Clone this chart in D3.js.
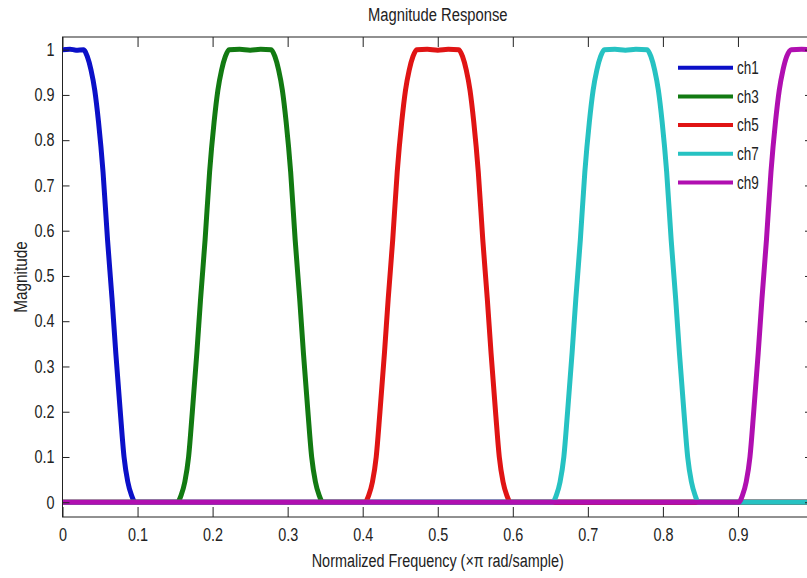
<!DOCTYPE html>
<html>
<head>
<meta charset="utf-8">
<script src="https://cdn.jsdelivr.net/npm/d3@7"></script>
<style>
  html, body { margin: 0; padding: 0; background: #fff; overflow: hidden; }
  svg { display: block; font-family: "Liberation Sans Narrow", "Arial Narrow", "Liberation Sans", sans-serif; }
</style>
</head>
<body>
<div id="chart"></div>
<script>
// values (normalized frequency, magnitude)
const ch1Freq = [0, 0.010, 0.018, 0.028, 0.033, 0.038, 0.043, 0.048, 0.054, 0.060, 0.066, 0.071, 0.077, 0.082, 0.087, 0.092, 0.097, 1.0];
const ch1Mag  = [1, 1.001, 0.999, 1, 0.985, 0.955, 0.91, 0.84, 0.73, 0.58, 0.45, 0.33, 0.20, 0.10, 0.045, 0.015, 0, 0];

const ch3Freq = [0, 0.153, 0.158, 0.163, 0.168, 0.173, 0.179, 0.184, 0.190, 0.196, 0.202, 0.207, 0.212, 0.217, 0.222, 0.236, 0.250, 0.264, 0.278, 0.283, 0.288, 0.293, 0.298, 0.304, 0.310, 0.316, 0.321, 0.327, 0.332, 0.337, 0.342, 0.347, 1.0];
const ch3Mag  = [0, 0, 0.015, 0.045, 0.10, 0.20, 0.33, 0.45, 0.58, 0.73, 0.84, 0.91, 0.955, 0.985, 1, 1.001, 0.999, 1.001, 1, 0.985, 0.955, 0.91, 0.84, 0.73, 0.58, 0.45, 0.33, 0.20, 0.10, 0.045, 0.015, 0, 0];

const ch5Freq = [0, 0.403, 0.408, 0.413, 0.418, 0.423, 0.429, 0.434, 0.440, 0.446, 0.452, 0.457, 0.462, 0.467, 0.472, 0.486, 0.500, 0.514, 0.528, 0.533, 0.538, 0.543, 0.548, 0.554, 0.560, 0.566, 0.571, 0.577, 0.582, 0.587, 0.592, 0.597, 1.0];
const ch5Mag  = [0, 0, 0.015, 0.045, 0.10, 0.20, 0.33, 0.45, 0.58, 0.73, 0.84, 0.91, 0.955, 0.985, 1, 1.001, 0.999, 1.001, 1, 0.985, 0.955, 0.91, 0.84, 0.73, 0.58, 0.45, 0.33, 0.20, 0.10, 0.045, 0.015, 0, 0];

const ch7Freq = [0, 0.653, 0.658, 0.663, 0.668, 0.673, 0.679, 0.684, 0.690, 0.696, 0.702, 0.707, 0.712, 0.717, 0.722, 0.736, 0.750, 0.764, 0.779, 0.784, 0.789, 0.794, 0.799, 0.805, 0.811, 0.817, 0.822, 0.828, 0.833, 0.838, 0.843, 0.847, 1.0];
const ch7Mag  = [0, 0, 0.015, 0.045, 0.10, 0.20, 0.33, 0.45, 0.58, 0.73, 0.84, 0.91, 0.955, 0.985, 1, 1.001, 0.999, 1.001, 1, 0.985, 0.955, 0.91, 0.84, 0.73, 0.58, 0.45, 0.33, 0.20, 0.10, 0.045, 0.015, 0, 0];

const ch9Freq = [0, 0.901, 0.906, 0.911, 0.916, 0.921, 0.927, 0.932, 0.938, 0.944, 0.950, 0.955, 0.960, 0.965, 0.971, 0.985, 1.0];
const ch9Mag  = [0, 0, 0.015, 0.045, 0.10, 0.20, 0.33, 0.45, 0.58, 0.73, 0.84, 0.91, 0.955, 0.985, 1, 1.001, 0.999];

const seriesNames  = ["ch1", "ch3", "ch5", "ch7", "ch9"];
const seriesColors = ["#0b10c8", "#127a12", "#e01414", "#26c2c2", "#b00fb0"];

const xTicks = [0, 0.1, 0.2, 0.3, 0.4, 0.5, 0.6, 0.7, 0.8, 0.9, 1];
const xTickLabels = ["0", "0.1", "0.2", "0.3", "0.4", "0.5", "0.6", "0.7", "0.8", "0.9", ""];
const yTicks = [0, 0.1, 0.2, 0.3, 0.4, 0.5, 0.6, 0.7, 0.8, 0.9, 1];
const yTickLabels = ["0", "0.1", "0.2", "0.3", "0.4", "0.5", "0.6", "0.7", "0.8", "0.9", "1"];

const W = 807, H = 578;
const plotLeft = 62.5, plotRight = 813, plotTop = 37, plotBottom = 517;
const fontFamily = "\"Liberation Sans Narrow\", \"Arial Narrow\", \"Liberation Sans\", sans-serif";

const series = [
  [ch1Freq, ch1Mag], [ch3Freq, ch3Mag], [ch5Freq, ch5Mag], [ch7Freq, ch7Mag], [ch9Freq, ch9Mag]
].map(([f, m], i) => ({
  name: seriesNames[i],
  color: seriesColors[i],
  points: f.map((fx, j) => ({ x: fx, y: m[j] }))
}));

// squeeze glyphs horizontally, the original uses a narrow face
function condense(sel, k) {
  sel.each(function() {
    const len = this.getComputedTextLength();
    if (len > 0) {
      d3.select(this).attr("textLength", len * k).attr("lengthAdjust", "spacingAndGlyphs");
    }
  });
}

const svg = d3.select("#chart")
  .append("svg")
  .attr("width", W)
  .attr("height", H)
  .style("background-color", "white");

const x = d3.scaleLinear().domain([0, 1]).range([plotLeft, plotRight]);
const y = d3.scaleLinear().domain([-0.0326, 1.028]).range([plotBottom, plotTop]);

svg.append("defs").append("clipPath").attr("id", "plot")
  .append("rect")
  .attr("x", plotLeft).attr("y", plotTop)
  .attr("width", plotRight - plotLeft).attr("height", plotBottom - plotTop);

const line = d3.line()
  .x(d => x(d.x))
  .y(d => y(d.y))
  .curve(d3.curveMonotoneX);

svg.append("g")
  .attr("clip-path", "url(#plot)")
  .selectAll("path")
  .data(series)
  .enter()
  .append("path")
    .attr("d", d => line(d.points))
    .attr("fill", "none")
    .attr("stroke", d => d.color)
    .attr("stroke-width", 5)
    .attr("stroke-linejoin", "round");

// axes: ticks point inward, MATLAB style
const fmtX = (d, i) => xTickLabels[i];
const fmtY = (d, i) => yTickLabels[i];

const gx = svg.append("g")
  .attr("transform", `translate(0,${plotBottom})`)
  .call(d3.axisBottom(x).tickValues(xTicks).tickFormat(fmtX).tickSizeInner(-10).tickSizeOuter(0).tickPadding(11));
const gxTop = svg.append("g")
  .attr("transform", `translate(0,${plotTop})`)
  .call(d3.axisTop(x).tickValues(xTicks).tickFormat("").tickSizeInner(-10).tickSizeOuter(0));
const gy = svg.append("g")
  .attr("transform", `translate(${plotLeft},0)`)
  .call(d3.axisLeft(y).tickValues(yTicks).tickFormat(fmtY).tickSizeInner(-7).tickSizeOuter(0).tickPadding(8));
const gyRight = svg.append("g")
  .attr("transform", `translate(${plotRight},0)`)
  .call(d3.axisRight(y).tickValues(yTicks).tickFormat("").tickSizeInner(-8).tickSizeOuter(0));

[gx, gxTop, gy, gyRight].forEach(g => {
  g.select(".domain").remove();
  g.selectAll("line").attr("stroke", "#222");
  g.selectAll("text").attr("fill", "#222").style("font-size", "18px").style("font-family", fontFamily)
    .call(condense, 0.8);
});

svg.append("rect")
  .attr("x", plotLeft).attr("y", plotTop)
  .attr("width", plotRight - plotLeft).attr("height", plotBottom - plotTop)
  .attr("fill", "none")
  .attr("stroke", "#222")
  .attr("stroke-width", 1);

// legend (no box)
const legend = svg.append("g");
const rows = legend.selectAll("g")
  .data(series)
  .enter()
  .append("g")
    .attr("transform", (d, i) => `translate(678,${67.7 + i * 28.7})`);
rows.append("line")
  .attr("x1", 0).attr("x2", 55)
  .attr("stroke", d => d.color)
  .attr("stroke-width", 4);
rows.append("text")
  .attr("x", 59).attr("dy", "0.35em")
  .attr("fill", "#222")
  .style("font-size", "18px")
  .text(d => d.name)
  .call(condense, 0.75);

// titles
svg.append("text")
  .attr("x", (plotLeft + plotRight) / 2).attr("y", 21)
  .attr("text-anchor", "middle")
  .attr("fill", "#222")
  .style("font-size", "18px")
  .text("Magnitude Response")
  .call(condense, 0.82);

svg.append("text")
  .attr("x", (plotLeft + plotRight) / 2).attr("y", 567)
  .attr("text-anchor", "middle")
  .attr("fill", "#222")
  .style("font-size", "18px")
  .text("Normalized Frequency (\u00d7\u03c0 rad/sample)")
  .call(condense, 0.8);

svg.append("text")
  .attr("transform", `translate(27,${(plotTop + plotBottom) / 2}) rotate(-90)`)
  .attr("text-anchor", "middle")
  .attr("fill", "#222")
  .style("font-size", "18px")
  .text("Magnitude")
  .call(condense, 0.85);
</script>
</body>
</html>
